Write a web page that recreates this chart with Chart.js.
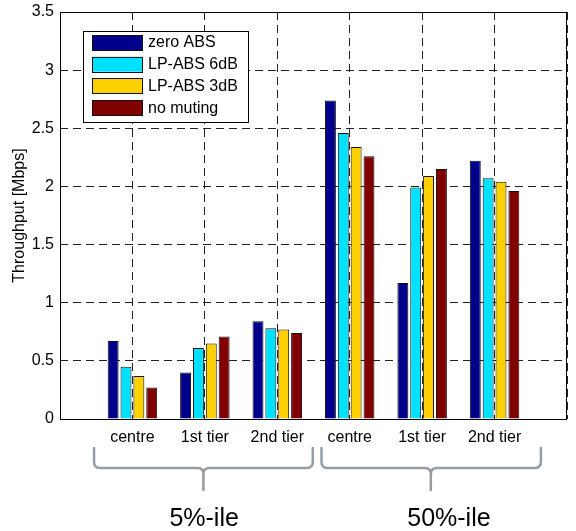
<!DOCTYPE html>
<html>
<head>
<meta charset="utf-8">
<script src="https://cdn.jsdelivr.net/npm/chart.js@4"></script>
<style>
  html, body { margin: 0; padding: 0; background: #fff; }
  #wrap { width: 576px; height: 531px; }
</style>
</head>
<body>
<div id="wrap"><canvas id="chart" width="576" height="531"></canvas></div>
<script>
// data
const tierLabels = ['centre', '1st tier', '2nd tier'];
const percentileLabels = ['5%-ile', '50%-ile'];
const seriesNames = ['zero ABS', 'LP-ABS 6dB', 'LP-ABS 3dB', 'no muting'];
const seriesColors = ['#00008c', '#00e0ff', '#ffd000', '#800000'];

// 5%-ile centre, 1st, 2nd, then 50%-ile centre, 1st, 2nd
const zeroAbs  = [0.67, 0.40, 0.84, 2.74, 1.17, 2.22];
const lpAbs6dB = [0.45, 0.61, 0.78, 2.46, 1.99, 2.07];
const lpAbs3dB = [0.37, 0.65, 0.77, 2.34, 2.09, 2.04];
const noMuting = [0.27, 0.71, 0.74, 2.26, 2.15, 1.96];

const yTicks = [0, 0.5, 1, 1.5, 2, 2.5, 3, 3.5];

const FONT = '"Liberation Sans", Arial, sans-serif';

// empty slot on each side, like the matlab axis
const labels = [''].concat(tierLabels, tierLabels, ['']);
const pad = arr => [null].concat(arr, [null]);

const datasets = [zeroAbs, lpAbs6dB, lpAbs3dB, noMuting].map((vals, i) => ({
    label: seriesNames[i],
    data: pad(vals),
    backgroundColor: seriesColors[i],
    borderColor: '#111',
    borderWidth: 1,
    categoryPercentage: 0.71,
    barPercentage: 0.85
}));

const extras = {
    id: 'extras',
    afterDraw(chart) {
        const ctx = chart.ctx;
        const area = chart.chartArea;
        const xs = chart.scales.x;

        ctx.save();
        // axes box
        ctx.strokeStyle = '#000';
        ctx.lineWidth = 1;
        ctx.strokeRect(Math.round(area.left) + 0.5, Math.round(area.top) + 0.5,
            Math.round(area.right - area.left) - 1, Math.round(area.bottom - area.top));

        // legend
        const lx = 83, ly = 31, lw = 165, lh = 91;
        ctx.fillStyle = '#fff';
        ctx.fillRect(lx, ly, lw, lh);
        ctx.strokeRect(lx + 0.5, ly + 0.5, lw, lh);
        ctx.font = '16px ' + FONT;
        ctx.textBaseline = 'middle';
        ctx.textAlign = 'left';
        chart.data.datasets.forEach((ds, i) => {
            const top = 35 + i * 21.7;
            ctx.fillStyle = ds.backgroundColor;
            ctx.fillRect(92, top, 50, 15);
            ctx.strokeStyle = '#111';
            ctx.strokeRect(92.5, Math.round(top) + 0.5, 50, 15);
            ctx.fillStyle = '#000';
            ctx.fillText(ds.label, 148, top + 8);
        });

        // braces under the groups
        const braces = [[0.47, 3.49, 1.98], [3.61, 6.64, 5.12]];
        const yt = 448, hy = 468, yb = 490, r = 6;
        ctx.strokeStyle = '#959ca3';
        ctx.lineWidth = 2.5;
        ctx.lineCap = 'round';
        braces.forEach(b => {
            const x1 = xs.getPixelForValue(b[0]);
            const x2 = xs.getPixelForValue(b[1]);
            const xc = xs.getPixelForValue(b[2]);
            ctx.beginPath();
            ctx.moveTo(x1, yt);
            ctx.lineTo(x1, hy - r);
            ctx.quadraticCurveTo(x1, hy, x1 + r, hy);
            ctx.lineTo(xc - r, hy);
            ctx.quadraticCurveTo(xc, hy, xc, hy + r);
            ctx.lineTo(xc, yb);
            ctx.moveTo(x2, yt);
            ctx.lineTo(x2, hy - r);
            ctx.quadraticCurveTo(x2, hy, x2 - r, hy);
            ctx.lineTo(xc + r, hy);
            ctx.quadraticCurveTo(xc, hy, xc, hy + r);
            ctx.stroke();
        });

        // percentile names
        const nameAt = [1.99, 5.37];
        ctx.fillStyle = '#000';
        ctx.font = '25px ' + FONT;
        ctx.textAlign = 'center';
        ctx.textBaseline = 'alphabetic';
        percentileLabels.forEach((t, i) => {
            ctx.fillText(t, xs.getPixelForValue(nameAt[i]), 526);
        });
        ctx.restore();
    }
};

new Chart(document.getElementById('chart'), {
    type: 'bar',
    data: { labels: labels, datasets: datasets },
    options: {
        responsive: false,
        devicePixelRatio: 1,
        animation: false,
        layout: { padding: { top: 12, right: 1, left: 0, bottom: 0 } },
        plugins: {
            legend: { display: false },
            tooltip: { enabled: false }
        },
        scales: {
            x: {
                offset: false,
                grid: { offset: false, color: '#222', lineWidth: 1, drawTicks: false },
                border: { display: false, dash: [8, 5] },
                ticks: {
                    color: '#000',
                    font: { family: FONT, size: 16 },
                    padding: 9,
                    maxRotation: 0,
                    autoSkip: false
                },
                afterFit(scale) { scale.height = 112; }
            },
            y: {
                min: 0,
                max: 3.5,
                afterBuildTicks(scale) { scale.ticks = yTicks.map(v => ({ value: v })); },
                grid: { color: '#222', lineWidth: 1, drawTicks: false },
                border: { display: false, dash: [8, 5] },
                ticks: {
                    color: '#000',
                    font: { family: FONT, size: 16 },
                    padding: 6,
                    callback: v => String(v)
                },
                title: {
                    display: true,
                    text: 'Throughput [Mbps]',
                    color: '#000',
                    font: { family: FONT, size: 16 },
                    padding: { top: 10, bottom: 0 }
                },
                afterFit(scale) {
                    scale.width = 60;
                    scale.paddingTop = 0;
                    scale.paddingBottom = 0;
                }
            }
        }
    },
    plugins: [extras]
});
</script>
</body>
</html>
